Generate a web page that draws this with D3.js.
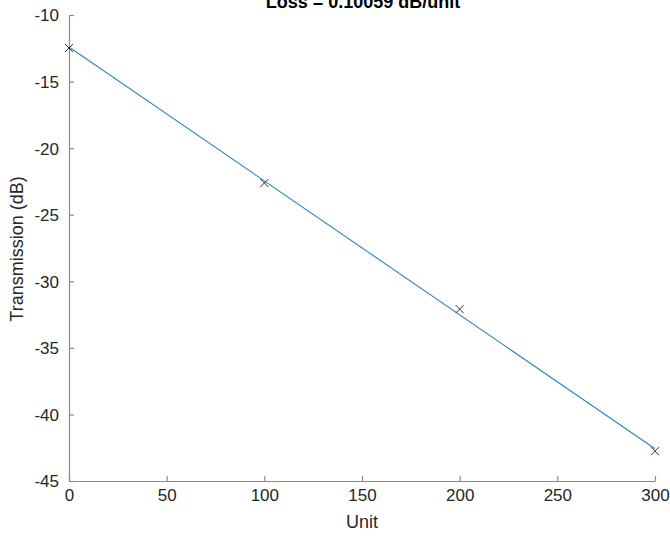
<!DOCTYPE html>
<html><head><meta charset="utf-8">
<script src="https://cdn.jsdelivr.net/npm/d3@7"></script>
<style>body{margin:0;background:#fff}svg{display:block}</style>
</head><body>
<script>
const measX = [0, 100, 200, 300];
const measY = [-12.48, -22.62, -32.09, -42.76];
const fitX = [0, 300];
const fitY = [-12.40, -42.58];
const xTicks = [0, 50, 100, 150, 200, 250, 300];
const yTicks = [-45, -40, -35, -30, -25, -20, -15, -10];
const titleText = "Loss = 0.10059 dB/unit";
const xLabel = "Unit";
const yLabel = "Transmission (dB)";

const W = 670, H = 536;
const svg = d3.select("body").append("svg").attr("width", W).attr("height", H);
const x = d3.scaleLinear().domain([0, 300]).range([69, 655]);
const y = d3.scaleLinear().domain([-45, -10]).range([481, 15]);
const font = "'Liberation Sans', Arial, sans-serif";
const axisCol = "#8a8a8a", textCol = "#262626";

const gx = svg.append("g").attr("transform", `translate(0,${y(-45)})`)
  .call(d3.axisBottom(x).tickValues(xTicks).tickFormat(d => String(d)).tickSizeInner(-5).tickSizeOuter(0).tickPadding(8));
const gy = svg.append("g").attr("transform", `translate(${x(0)},0)`)
  .call(d3.axisLeft(y).tickValues(yTicks).tickFormat(d => String(d)).tickSizeInner(-5).tickSizeOuter(0).tickPadding(10));
[gx, gy].forEach(g => {
  g.select(".domain").attr("stroke", axisCol).attr("stroke-width", 1.2);
  g.selectAll(".tick line").attr("stroke", axisCol).attr("stroke-width", 1.2);
  g.selectAll(".tick text").attr("fill", textCol).attr("font-family", font).attr("font-size", 17);
});
gy.selectAll(".tick text").attr("dy", "0.35em");

// fit line
svg.append("path")
  .datum(fitX.map((d, i) => [d, fitY[i]]))
  .attr("fill", "none").attr("stroke", "#2a86c0").attr("stroke-width", 1.1)
  .attr("d", d3.line().x(d => x(d[0])).y(d => y(d[1])));

// markers
const s = 4;
const mk = svg.append("g").selectAll("g").data(measX.map((d, i) => [d, measY[i]])).join("g")
  .attr("transform", d => `translate(${x(d[0])},${y(d[1])})`);
mk.append("path").attr("d", `M${-s},${-s}L${s},${s}M${-s},${s}L${s},${-s}`)
  .attr("stroke", "#333").attr("stroke-width", 1);

// title and labels
svg.append("text").attr("x", 363).attr("y", 8).attr("text-anchor", "middle")
  .attr("font-family", font).attr("font-size", 18).attr("font-weight", "bold").attr("fill", "#000")
  .text(titleText);
svg.append("text").attr("x", 362).attr("y", 528).attr("text-anchor", "middle")
  .attr("font-family", font).attr("font-size", 18).attr("fill", textCol).text(xLabel);
svg.append("text").attr("transform", "translate(23,249) rotate(-90)").attr("text-anchor", "middle")
  .attr("font-family", font).attr("font-size", 18).attr("fill", textCol).text(yLabel);
</script>
</body></html>
